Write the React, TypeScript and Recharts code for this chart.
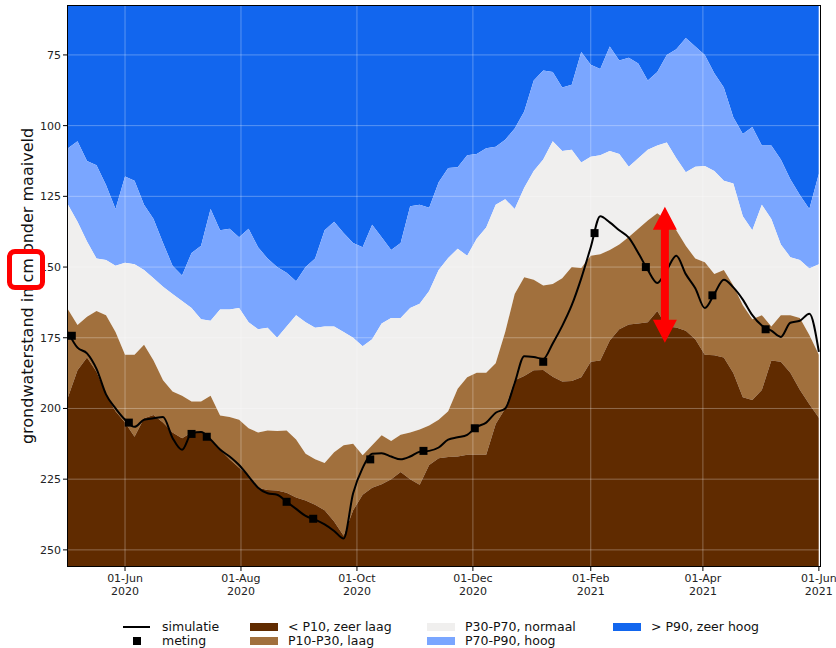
import React from 'react';
import { ComposedChart, Area, Line, Scatter, XAxis, YAxis, ReferenceLine } from 'recharts';

const DAY = 86400000;
const START = Date.UTC(2020, 4, 2);
const STEP_DAYS = 5; // één punt per 5 dagen
const END_DAYS = 395.6;

// percentielen (cm onder maaiveld), elke 5 dagen vanaf 2 mei 2020
const p90 = [
  108, 105.5, 112.5, 114, 121, 129.5, 118, 119.5, 128, 133,
  141.5, 149.5, 153, 145, 142.5, 129.5, 137, 136.5, 139.5, 136.5,
  143, 147, 150, 152, 155, 150, 147, 137, 134, 138,
  141.5, 143, 135, 139.5, 144, 141.5, 128.5, 128, 129, 120,
  115, 114.7, 110.5, 110, 108, 107.5, 105, 101, 95, 84,
  80.5, 81, 86.5, 85.5, 74, 78.5, 80, 72, 77, 76,
  78, 84, 81, 75, 73, 69, 72, 75, 81.5, 86.5,
  97, 103, 100.5, 107, 107, 112, 119, 124.5, 129.5, 117,
];
const p70 = [
  128, 134, 141, 147, 147.5, 149.5, 148.5, 149, 151, 154,
  157, 159.5, 162, 164.5, 168.5, 169, 165, 165, 164.5, 169.5,
  172, 171.5, 175, 171, 167, 169.5, 171.5, 171, 171, 173,
  175, 178, 175.5, 170, 168, 168, 164.5, 163, 158.5, 151,
  146.8, 143.5, 146, 140, 136, 128, 126, 129.5, 122, 116,
  112, 105.5, 109, 108.5, 113, 111, 110.5, 109, 110, 114.5,
  111.5, 108.5, 107, 106, 111.5, 116.5, 114.5, 114.3, 116, 119.5,
  120.5, 132, 137, 128, 133, 142, 146.5, 147.5, 150.5, 149,
];
const p30 = [
  165, 170.5, 167.6, 165.5, 167, 173, 181, 181, 177.5, 183,
  190, 194, 195.5, 197.5, 197.5, 195.5, 202.5, 203, 204, 207,
  208.5, 207.8, 208, 207.8, 211, 216, 218, 219.3, 215.5, 213,
  212.5, 216.5, 213, 209.5, 211.5, 209.3, 208.5, 207.4, 206, 204,
  201, 193, 189, 187.4, 187.4, 184, 173, 159.5, 153.6, 154.5,
  156.5, 156, 154, 150, 150.3, 146, 145.5, 144, 142, 139.4,
  136.5, 133.5, 131, 133.5, 137, 142.5, 147, 148.3, 152.5, 151,
  156.5, 163.5, 168.5, 167, 171, 167, 167, 168, 174, 181,
];
const p10 = [
  196, 186.5, 182, 187, 195, 201, 205, 210, 203.5, 202.3,
  205, 208.5, 210.5, 208.5, 208.2, 211, 214.5, 218, 221, 223.5,
  228, 228.8, 229, 229.8, 231.5, 232.5, 234, 236, 240, 245,
  236, 230.5, 228, 226.8, 225, 222.5, 225, 227, 220, 217.6,
  217.2, 217, 216.4, 216.4, 216.4, 205.5, 200, 190, 188.5, 186.5,
  186.4, 188.8, 190.5, 190.3, 189, 183.5, 183, 176, 172, 170.3,
  170, 169.5, 165.5, 171, 171.4, 172.5, 175.5, 181, 181.2, 182,
  187.5, 196, 197, 193.5, 183, 183.5, 187.4, 193.4, 198.5, 203.3,
];
const simulatie = [
  173, 178.5, 180.5, 186, 195, 200, 204, 206.5, 204, 203.5,
  203, 210.4, 214.6, 208.8, 208.3, 211, 214.5, 217, 220, 224,
  228, 230, 230.5, 233, 235.5, 238, 239.3, 241, 243.3, 246,
  230, 221, 216, 215.8, 217, 218, 217, 215.3, 215, 213.8,
  211, 210.2, 209.3, 206.5, 205, 201.5, 200, 191, 181.5, 181.8,
  182.5, 177, 170.8, 163.5, 154, 143, 132, 134.2, 137, 139.6,
  145, 151, 155.6, 151, 146, 152.5, 157.5, 164.5, 159.5, 154.5,
  157.2, 161.5, 167, 170.7, 172.5, 174.7, 169.7, 169, 166.5, 180,
];

const metingDatum = [
  '2020-05-04', '2020-06-03', '2020-07-06', '2020-07-14', '2020-08-25', '2020-09-08', '2020-10-08',
  '2020-11-05', '2020-12-02', '2021-01-07', '2021-02-03', '2021-03-02', '2021-04-06', '2021-05-04',
];
const metingWaarde = [174.3, 205, 209, 210, 233, 239, 218, 215, 207, 183.5, 138, 150, 160, 172];

const xTickDates = ['2020-06-01', '2020-08-01', '2020-10-01', '2020-12-01', '2021-02-01', '2021-04-01', '2021-06-01'];
const xTickLabels = ['01-Jun', '01-Aug', '01-Oct', '01-Dec', '01-Feb', '01-Apr', '01-Jun'];
const xTickYears = ['2020', '2020', '2020', '2020', '2021', '2021', '2021'];
const yTicks = [75, 100, 125, 150, 175, 200, 225, 250];
const Y_MIN = 57.7;
const Y_MAX = 255.7;

// rode pijl (annotatie)
const arrowDate = '2021-03-12';
const arrowTop = 128.7;
const arrowBottom = 176.8;

const COLORS = {
  zeerHoog: '#1266ee',
  hoog: '#7aa6ff',
  normaal: '#f0efee',
  laag: '#a1703d',
  zeerLaag: '#602b00',
};

const FONT = '"DejaVu Sans", sans-serif';

const toMs = (s: string) => {
  const [y, m, d] = s.split('-').map(Number);
  return Date.UTC(y, m - 1, d);
};

const rows = p90.map((_, i) => ({
  t: START + i * STEP_DAYS * DAY,
  p90: p90[i],
  p70: p70[i],
  p30: p30[i],
  p10: p10[i],
  sim: simulatie[i],
}));

const metingen = metingDatum.map((d, i) => ({ t: toMs(d), v: metingWaarde[i] }));
const xTicks = xTickDates.map(toMs);

const DateTick = (props: any) => {
  const { x, y, payload } = props;
  const i = xTicks.indexOf(payload.value);
  return (
    <text x={x} y={y} textAnchor="middle" fontSize={11} fill="#222" fontFamily={FONT}>
      <tspan x={x} dy="0.85em">{xTickLabels[i]}</tspan>
      <tspan x={x} dy="1.15em">{xTickYears[i]}</tspan>
    </text>
  );
};

const ArrowShape = (props: any) => {
  const { x1, y1, y2 } = props;
  const x = x1;
  const top = Math.min(y1, y2);
  const bot = Math.max(y1, y2);
  const hw = 12;
  const hh = 23;
  const sw = 4;
  const d = `M${x},${top} L${x + hw},${top + hh} L${x + sw},${top + hh} L${x + sw},${bot - hh} L${x + hw},${bot - hh} L${x},${bot} L${x - hw},${bot - hh} L${x - sw},${bot - hh} L${x - sw},${top + hh} L${x - hw},${top + hh} Z`;
  return <path d={d} fill="#ff0000" />;
};

const YLabel = () => (
  <text
    x={27}
    y={286}
    transform="rotate(-90 27 286)"
    textAnchor="middle"
    dominantBaseline="central"
    fontSize={16}
    fontFamily={FONT}
    fill="#111"
  >
    grondwaterstand in cm onder maaiveld
  </text>
);

const legendRows = [
  [
    { label: 'simulatie', kind: 'line', left: 123, textLeft: 162 },
    { label: '< P10, zeer laag', kind: 'patch', color: COLORS.zeerLaag, left: 250, textLeft: 288 },
    { label: 'P30-P70, normaal', kind: 'patch', color: COLORS.normaal, left: 427, textLeft: 465 },
    { label: '> P90, zeer hoog', kind: 'patch', color: COLORS.zeerHoog, left: 613, textLeft: 651 },
  ],
  [
    { label: 'meting', kind: 'square', left: 123, textLeft: 162 },
    { label: 'P10-P30, laag', kind: 'patch', color: COLORS.laag, left: 250, textLeft: 288 },
    { label: 'P70-P90, hoog', kind: 'patch', color: COLORS.hoog, left: 427, textLeft: 465 },
  ],
];
const legendRowY = [627, 641];

export default function App() {
  const xDomain = [START, START + END_DAYS * DAY];
  const gridStyle = { stroke: '#ffffff', strokeOpacity: 0.3, strokeWidth: 1 };

  return (
    <div style={{ position: 'absolute', left: 0, top: 0, width: 836, height: 648, background: '#fff', fontFamily: FONT }}>
      <ComposedChart width={836} height={648} data={rows} margin={{ top: 6, right: 16, bottom: 42, left: 8 }}>
        <XAxis
          dataKey="t"
          type="number"
          domain={xDomain}
          ticks={xTicks}
          interval={0}
          tick={<DateTick />}
          tickSize={5}
          height={40}
          allowDataOverflow
          axisLine={false}
          tickLine={{ stroke: '#000' }}
        />
        <YAxis
          type="number"
          reversed
          domain={[Y_MIN, Y_MAX]}
          ticks={yTicks}
          interval={0}
          width={60}
          tickSize={5}
          allowDataOverflow
          axisLine={false}
          tickLine={{ stroke: '#000' }}
          tick={{ fontSize: 11, fill: '#222', fontFamily: FONT }}
          label={<YLabel />}
        />
        <Area type="linear" dataKey={(r: any) => [Y_MIN, r.p90]} stroke="none" fill={COLORS.zeerHoog} fillOpacity={1} isAnimationActive={false} activeDot={false} />
        <Area type="linear" dataKey={(r: any) => [r.p90, r.p70]} stroke="none" fill={COLORS.hoog} fillOpacity={1} isAnimationActive={false} activeDot={false} />
        <Area type="linear" dataKey={(r: any) => [r.p70, r.p30]} stroke="none" fill={COLORS.normaal} fillOpacity={1} isAnimationActive={false} activeDot={false} />
        <Area type="linear" dataKey={(r: any) => [r.p30, r.p10]} stroke="none" fill={COLORS.laag} fillOpacity={1} isAnimationActive={false} activeDot={false} />
        <Area type="linear" dataKey={(r: any) => [r.p10, Y_MAX]} stroke="none" fill={COLORS.zeerLaag} fillOpacity={1} isAnimationActive={false} activeDot={false} />
        {yTicks.map((v) => (
          <ReferenceLine key={'gy' + v} y={v} {...gridStyle} />
        ))}
        {xTicks.map((v) => (
          <ReferenceLine key={'gx' + v} x={v} {...gridStyle} />
        ))}
        <Line type="monotone" dataKey="sim" stroke="#000" strokeWidth={2} dot={false} activeDot={false} isAnimationActive={false} />
        <Scatter data={metingen} dataKey="v" fill="#000" shape="square" isAnimationActive={false} />
        <ReferenceLine
          segment={[
            { x: toMs(arrowDate), y: arrowTop },
            { x: toMs(arrowDate), y: arrowBottom },
          ]}
          shape={<ArrowShape />}
        />
      </ComposedChart>

      {/* kader rond de plot */}
      <div style={{ position: 'absolute', left: 67, top: 5, width: 754, height: 562, border: '1px solid #000', boxSizing: 'border-box', pointerEvents: 'none' }} />

      {/* rood kader rond "cm" */}
      <div style={{ position: 'absolute', left: 7, top: 249, width: 38, height: 41, border: '5px solid #ff0000', borderRadius: 8, boxSizing: 'border-box' }} />

      {legendRows.map((row, ri) =>
        row.map((item) => {
          const cy = legendRowY[ri];
          return (
            <React.Fragment key={item.label}>
              {item.kind === 'line' && (
                <div style={{ position: 'absolute', left: item.left, top: cy - 0.8, width: 27, height: 1.6, background: '#000' }} />
              )}
              {item.kind === 'square' && (
                <div style={{ position: 'absolute', left: item.left + 10, top: cy - 3.8, width: 7.5, height: 7.5, background: '#000' }} />
              )}
              {item.kind === 'patch' && (
                <div style={{ position: 'absolute', left: item.left, top: cy - 4, width: 28, height: 8, background: item.color }} />
              )}
              <div style={{ position: 'absolute', left: item.textLeft, top: cy - 7, height: 14, lineHeight: '14px', fontSize: 12.5, color: '#111', whiteSpace: 'nowrap' }}>
                {item.label}
              </div>
            </React.Fragment>
          );
        })
      )}
    </div>
  );
}
